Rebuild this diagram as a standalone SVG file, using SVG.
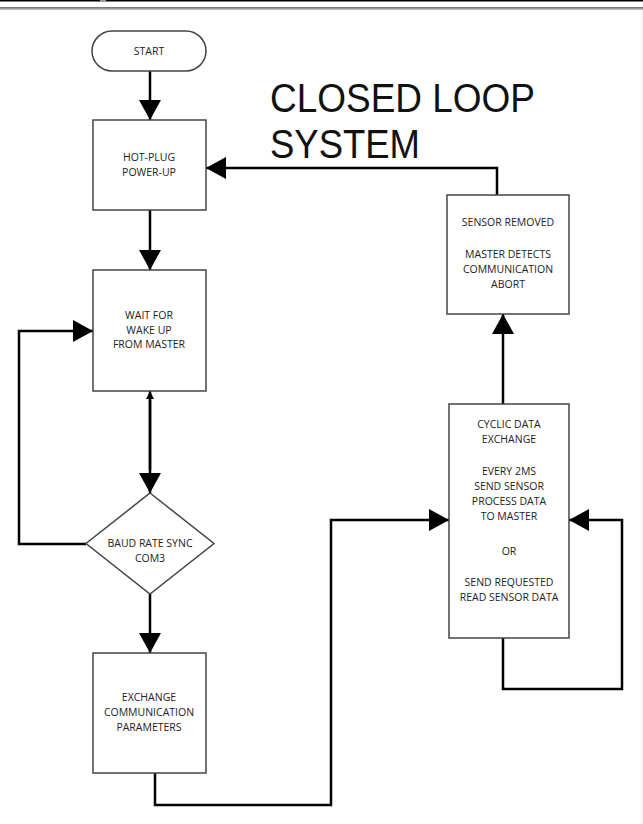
<svg xmlns="http://www.w3.org/2000/svg" width="643" height="824" viewBox="0 0 643 824">
<defs>
<marker id="ah" viewBox="0 0 20 22" refX="20" refY="11" markerWidth="20" markerHeight="22" markerUnits="userSpaceOnUse" orient="auto">
<path d="M0,0 L20,11 L0,22 Z" fill="#000"/>
</marker>
<marker id="ahs" viewBox="0 0 8 8" refX="8" refY="4" markerWidth="8" markerHeight="8" markerUnits="userSpaceOnUse" orient="auto">
<path d="M0,0 L8,4 L0,8 Z" fill="#000"/>
</marker>
<linearGradient id="bar" x1="0" y1="0" x2="0" y2="1">
<stop offset="0" stop-color="#666"/>
<stop offset="1" stop-color="#ccc"/>
</linearGradient>
</defs>
<style>
.box{fill:#fff;stroke:#444;stroke-width:1.5}
.t{font-family:"Open Sans","DejaVu Sans",sans-serif;font-size:10.5px;fill:#222;text-anchor:middle}
.title{font-family:"Liberation Sans","Open Sans",sans-serif;font-size:40px;fill:#111}
.c{fill:none;stroke:#000;stroke-width:2.5}
</style>
<rect x="0" y="0" width="643" height="824" fill="#fff"/>
<rect x="0" y="0" width="643" height="1.5" fill="#000"/>
<rect x="0" y="7" width="643" height="3" fill="url(#bar)"/>
<rect x="100" y="0" width="6" height="2" fill="#999"/>
<rect x="641.5" y="10" width="1" height="814" fill="#eee"/>

<g id="title">
<text class="title" x="270" y="112" textLength="265" lengthAdjust="spacingAndGlyphs">CLOSED LOOP</text>
<text class="title" x="270" y="158" textLength="150" lengthAdjust="spacingAndGlyphs">SYSTEM</text>
</g>

<g id="connectors">
<path class="c" d="M150,71 V120" marker-end="url(#ah)"/>
<path class="c" d="M150,210 V270" marker-end="url(#ah)"/>
<path class="c" d="M150,470 V391" marker-end="url(#ahs)"/>
<path class="c" d="M150,400 V493" marker-end="url(#ah)"/>
<path class="c" d="M86,544 H19 V331 H93" marker-end="url(#ah)"/>
<path class="c" d="M150,594 V653" marker-end="url(#ah)"/>
<path class="c" d="M155,773 V805 H331 V520 H449" marker-end="url(#ah)"/>
<path class="c" d="M503,638 V689 H622 V520 H569" marker-end="url(#ah)"/>
<path class="c" d="M503,404 V314" marker-end="url(#ah)"/>
<path class="c" d="M497,195 V168 H206" marker-end="url(#ah)"/>
</g>

<g id="start">
<rect class="box" x="92" y="31" width="114" height="40" rx="20" ry="20"/>
<text class="t" x="149" y="55">START</text>
</g>

<g id="hotplug">
<rect class="box" x="93" y="120" width="113" height="90"/>
<text class="t" x="149" y="161">HOT-PLUG</text>
<text class="t" x="149" y="176">POWER-UP</text>
</g>

<g id="wait">
<rect class="box" x="93" y="270" width="113" height="121"/>
<text class="t" x="149" y="319">WAIT FOR</text>
<text class="t" x="149" y="334">WAKE UP</text>
<text class="t" x="149" y="348">FROM MASTER</text>
</g>

<g id="baud">
<path class="box" d="M150,493 L214,543.5 L150,594 L86,543.5 Z"/>
<text class="t" x="150" y="547">BAUD RATE SYNC</text>
<text class="t" x="150" y="562">COM3</text>
</g>

<g id="exchange">
<rect class="box" x="93" y="653" width="113" height="120"/>
<text class="t" x="149" y="701">EXCHANGE</text>
<text class="t" x="149" y="716">COMMUNICATION</text>
<text class="t" x="149" y="731">PARAMETERS</text>
</g>

<g id="cyclic">
<rect class="box" x="449" y="404" width="120" height="234"/>
<text class="t" x="509" y="428">CYCLIC DATA</text>
<text class="t" x="509" y="443">EXCHANGE</text>
<text class="t" x="509" y="475">EVERY 2MS</text>
<text class="t" x="509" y="490">SEND SENSOR</text>
<text class="t" x="509" y="505">PROCESS DATA</text>
<text class="t" x="509" y="520">TO MASTER</text>
<text class="t" x="509" y="555">OR</text>
<text class="t" x="509" y="586">SEND REQUESTED</text>
<text class="t" x="509" y="601">READ SENSOR DATA</text>
</g>

<g id="sensor">
<rect class="box" x="447" y="195" width="122" height="119"/>
<text class="t" x="508" y="226">SENSOR REMOVED</text>
<text class="t" x="508" y="258">MASTER DETECTS</text>
<text class="t" x="508" y="273">COMMUNICATION</text>
<text class="t" x="508" y="288">ABORT</text>
</g>
</svg>
